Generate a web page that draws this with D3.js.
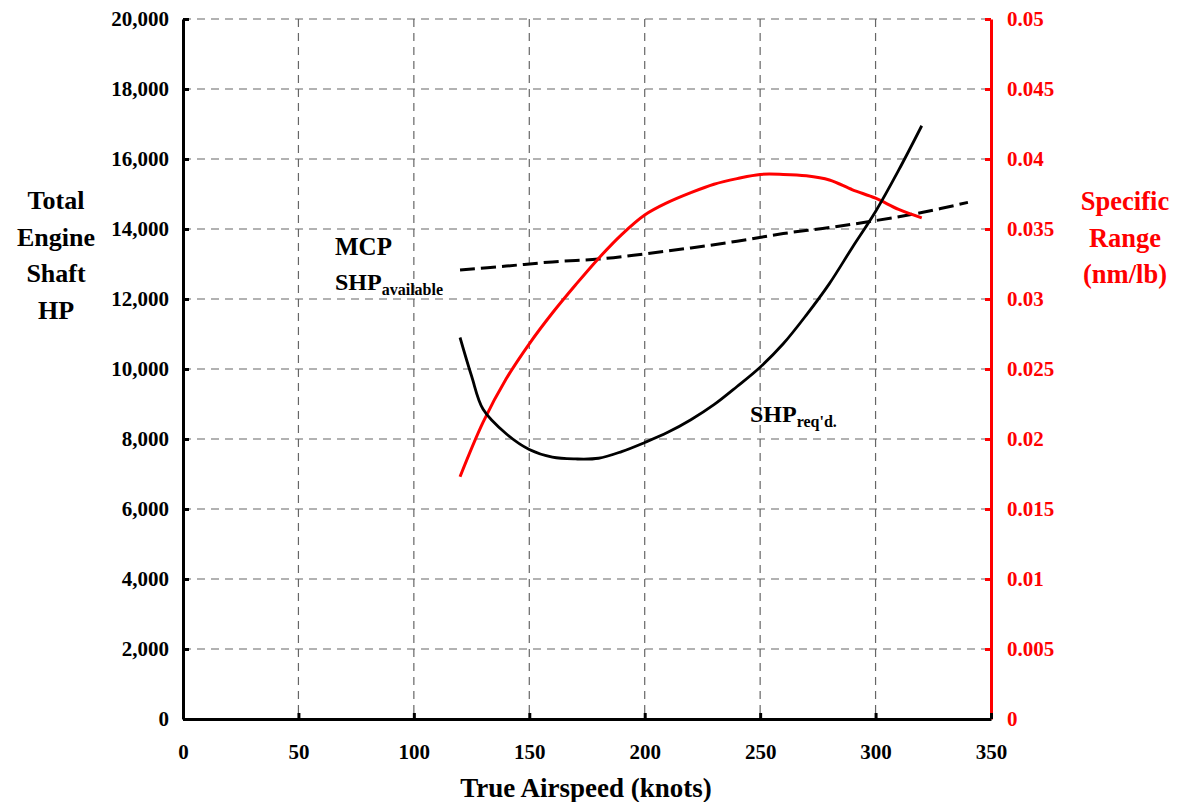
<!DOCTYPE html>
<html lang="en">
<head>
<meta charset="utf-8"/>
<title>SHP and Specific Range vs True Airspeed</title>
<script src="https://d3js.org/d3.v7.min.js"></script>
<style>
  body { margin: 0; background: #fff; }
  text { font-family: "Liberation Serif", "Times New Roman", serif; font-weight: bold; }
</style>
</head>
<body>
<svg id="chart"></svg>
<script>
// --- data ---
const reqSpeed = [120, 125, 130, 140, 150, 160, 170, 180, 190, 200, 210, 220, 230, 240, 250, 260, 270, 280, 290, 300, 310, 320]
const shpRequired = [10900, 9800, 8850, 8150, 7700, 7480, 7430, 7450, 7640, 7900, 8190, 8550, 8980, 9500, 10050, 10720, 11540, 12440, 13480, 14500, 15680, 16950]

const mcpSpeed = [120, 140, 160, 180, 200, 220, 240, 260, 280, 300, 320, 340]
const shpAvailable = [12830, 12940, 13060, 13140, 13290, 13460, 13650, 13870, 14040, 14240, 14470, 14760]

const srSpeed = [120, 130, 140, 150, 160, 170, 180, 190, 200, 210, 220, 230, 240, 250, 260, 270, 280, 290, 300, 310, 320]
const specificRange = [0.0173, 0.0212, 0.0243, 0.0268, 0.0290, 0.0310, 0.0329, 0.0346, 0.0360, 0.0369, 0.0376, 0.0382, 0.0386, 0.0389, 0.0389, 0.0388, 0.0385, 0.0378, 0.0372, 0.0364, 0.0358]

const xTicks = [0, 50, 100, 150, 200, 250, 300, 350]
const yTicks = [0, 2000, 4000, 6000, 8000, 10000, 12000, 14000, 16000, 18000, 20000]
const y2Ticks = [0, 0.005, 0.01, 0.015, 0.02, 0.025, 0.03, 0.035, 0.04, 0.045, 0.05]

const width = 1177
const height = 802
const plotLeft = 183, plotRight = 991, plotTop = 19, plotBottom = 719

const svg = d3.select('#chart')
  .attr('width', width)
  .attr('height', height)

const x = d3.scaleLinear().domain([0, 350]).range([plotLeft, plotRight])
const y = d3.scaleLinear().domain([0, 20000]).range([plotBottom, plotTop])
const y2 = d3.scaleLinear().domain([0, 0.05]).range([plotBottom, plotTop])

// gridlines
const grid = svg.append('g')
  .attr('stroke', '#666')
  .attr('stroke-width', 1.2)
  .attr('stroke-dasharray', '8,6')

grid.selectAll('line.h')
  .data(yTicks.filter(d => d > 0))
  .enter()
  .append('line')
  .attr('x1', plotLeft)
  .attr('x2', plotRight)
  .attr('y1', d => y(d))
  .attr('y2', d => y(d))

grid.selectAll('line.v')
  .data(xTicks.filter(d => d > 0 && d < 350))
  .enter()
  .append('line')
  .attr('x1', d => x(d))
  .attr('x2', d => x(d))
  .attr('y1', plotTop)
  .attr('y2', plotBottom)

// series
const line = (xs, ys, sy) => d3.line()
  .x((d, i) => x(xs[i]))
  .y(d => sy(d))
  .curve(d3.curveCatmullRom.alpha(0.5))(ys)

svg.append('path')
  .attr('d', line(mcpSpeed, shpAvailable, y))
  .attr('fill', 'none')
  .attr('stroke', '#000')
  .attr('stroke-width', 3)
  .attr('stroke-dasharray', '15,6')

svg.append('path')
  .attr('d', line(srSpeed, specificRange, y2))
  .attr('fill', 'none')
  .attr('stroke', '#ff0000')
  .attr('stroke-width', 3)

svg.append('path')
  .attr('d', line(reqSpeed, shpRequired, y))
  .attr('fill', 'none')
  .attr('stroke', '#000')
  .attr('stroke-width', 2.8)

// axes
const styleAxis = (g, color) => {
  g.select('.domain').attr('stroke', color).attr('stroke-width', 3)
  g.selectAll('.tick line').attr('stroke', color).attr('stroke-width', 3)
  g.selectAll('.tick text')
    .attr('fill', color)
    .style('font-family', '"Liberation Serif", "Times New Roman", serif')
    .style('font-weight', 'bold')
    .style('font-size', '21px')
}

svg.append('g')
  .attr('transform', `translate(${plotLeft},0)`)
  .call(d3.axisLeft(y).tickValues(yTicks).tickFormat(d3.format(',')).tickSizeInner(-6).tickSizeOuter(0).tickPadding(14))
  .call(g => styleAxis(g, '#000'))

svg.append('g')
  .attr('transform', `translate(${plotRight},0)`)
  .call(d3.axisRight(y2).tickValues(y2Ticks).tickFormat(d => d === 0 ? '0' : String(+d.toFixed(3))).tickSizeInner(-6).tickSizeOuter(0).tickPadding(16))
  .call(g => styleAxis(g, '#ff0000'))

svg.append('g')
  .attr('transform', `translate(0,${plotBottom})`)
  .call(d3.axisBottom(x).tickValues(xTicks).tickSizeInner(-6).tickSizeOuter(0).tickPadding(25))
  .call(g => styleAxis(g, '#000'))

// axis titles
const leftTitle = svg.append('text')
  .attr('text-anchor', 'middle')
  .style('font-size', '26px')
  .attr('fill', '#000')
;['Total', 'Engine', 'Shaft', 'HP'].forEach((t, i) => {
  leftTitle.append('tspan').attr('x', 56).attr('y', 209 + i * 36.5).text(t)
})

const rightTitle = svg.append('text')
  .attr('text-anchor', 'middle')
  .style('font-size', '26.5px')
  .attr('fill', '#ff0000')
;['Specific', 'Range', '(nm/lb)'].forEach((t, i) => {
  rightTitle.append('tspan').attr('x', 1125).attr('y', 210 + i * 36.5).text(t)
})

svg.append('text')
  .attr('x', 586)
  .attr('y', 797)
  .attr('text-anchor', 'middle')
  .style('font-size', '27px')
  .text('True Airspeed (knots)')

// series labels
svg.append('text')
  .attr('x', 335)
  .attr('y', 255)
  .style('font-size', '25px')
  .text('MCP')

const avail = svg.append('text')
  .attr('x', 335)
  .attr('y', 290)
  .style('font-size', '24px')
avail.append('tspan').text('SHP')
avail.append('tspan').attr('dy', 5).style('font-size', '16px').text('available')

const req = svg.append('text')
  .attr('x', 750)
  .attr('y', 422)
  .style('font-size', '24px')
req.append('tspan').text('SHP')
req.append('tspan').attr('dy', 5).style('font-size', '16px').text("req'd.")
</script>
</body>
</html>
